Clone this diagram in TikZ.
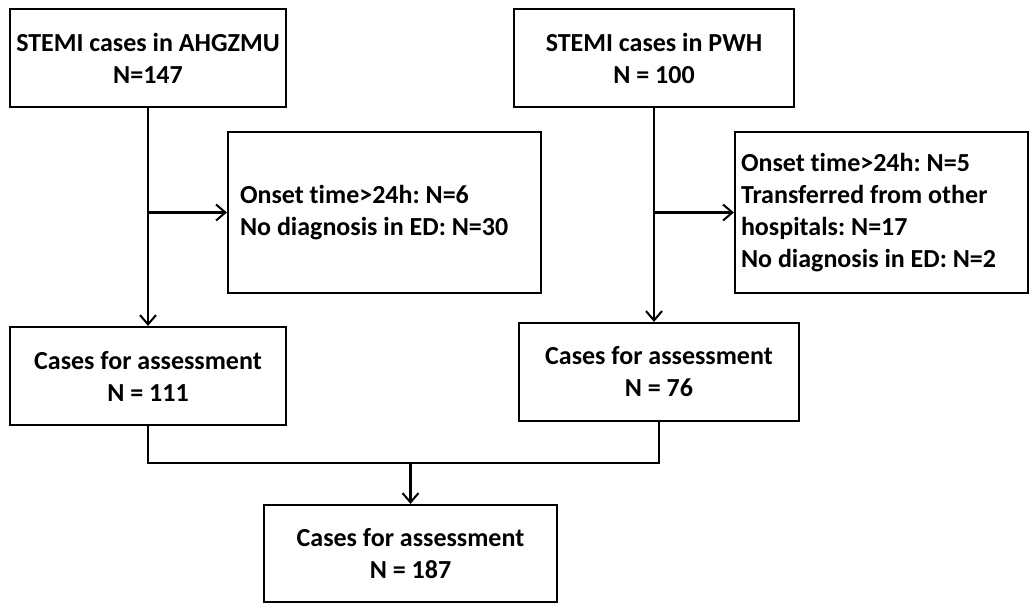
\documentclass[tikz,border=0pt]{standalone}
\usepackage{fontspec}
\setmainfont{Carlito}[Ligatures=NoCommon]
\usetikzlibrary{arrows.meta}
\frenchspacing

\tikzset{
  box/.style={draw,line width=1.6pt,align=center,font=\fontsize{19.5}{24}\selectfont\bfseries},
  exbox/.style={box,align=flush left,inner xsep=9pt},
  arr/.style={line width=1.6pt,-{Straight Barb[length=7pt,width=12pt,line width=1.5pt]}},
  link/.style={line width=1.6pt}
}

\begin{document}
\begin{tikzpicture}[x=0.75pt,y=-0.75pt]
  \useasboundingbox (0,0) rectangle (1032,603);
  % sources
  \node[box,minimum width=207pt,minimum height=73.5pt] (ahg) at (148,58) {STEMI cases in AHGZMU\\N=147};
  \node[box,minimum width=210pt,minimum height=73.5pt] (pwh) at (654,58) {STEMI cases in PWH\\N = 100};
  % excluded
  \node[exbox,text width=216.75pt,minimum height=120.75pt] (exa) at (384.5,212.5) {Onset time>24h: N=6\\No diagnosis in ED: N=30};
  \node[exbox,inner xsep=4.5pt,text width=210.75pt,minimum height=120.75pt] (exp) at (881.5,212.5) {Onset time>24h: N=5\\Transferred from other\\hospitals: N=17\\No diagnosis in ED: N=2};
  % assessed
  \node[box,minimum width=207pt,minimum height=73.5pt] (asa) at (148,376) {Cases for assessment\\N = 111};
  \node[box,minimum width=210pt,minimum height=73.5pt] (asp) at (659,372) {Cases for assessment\\N = 76};
  \node[box,minimum width=219.75pt,minimum height=72.75pt] (tot) at (410.5,553.5) {Cases for assessment\\N = 187};
  \coordinate (jn) at (0,463);

  \draw[arr] (ahg) -- (asa);
  \draw[arr] (ahg.south |- exa.west) -- (exa.west);
  \draw[arr] (pwh.south) -- (pwh.south |- asp.north);
  \draw[arr] (pwh.south |- exp.west) -- (exp.west);
  \draw[link] (asa.south) |- (asp.south |- jn) -- (asp.south);
  \draw[arr] (tot.north |- jn) -- (tot.north);
\end{tikzpicture}
\end{document}
